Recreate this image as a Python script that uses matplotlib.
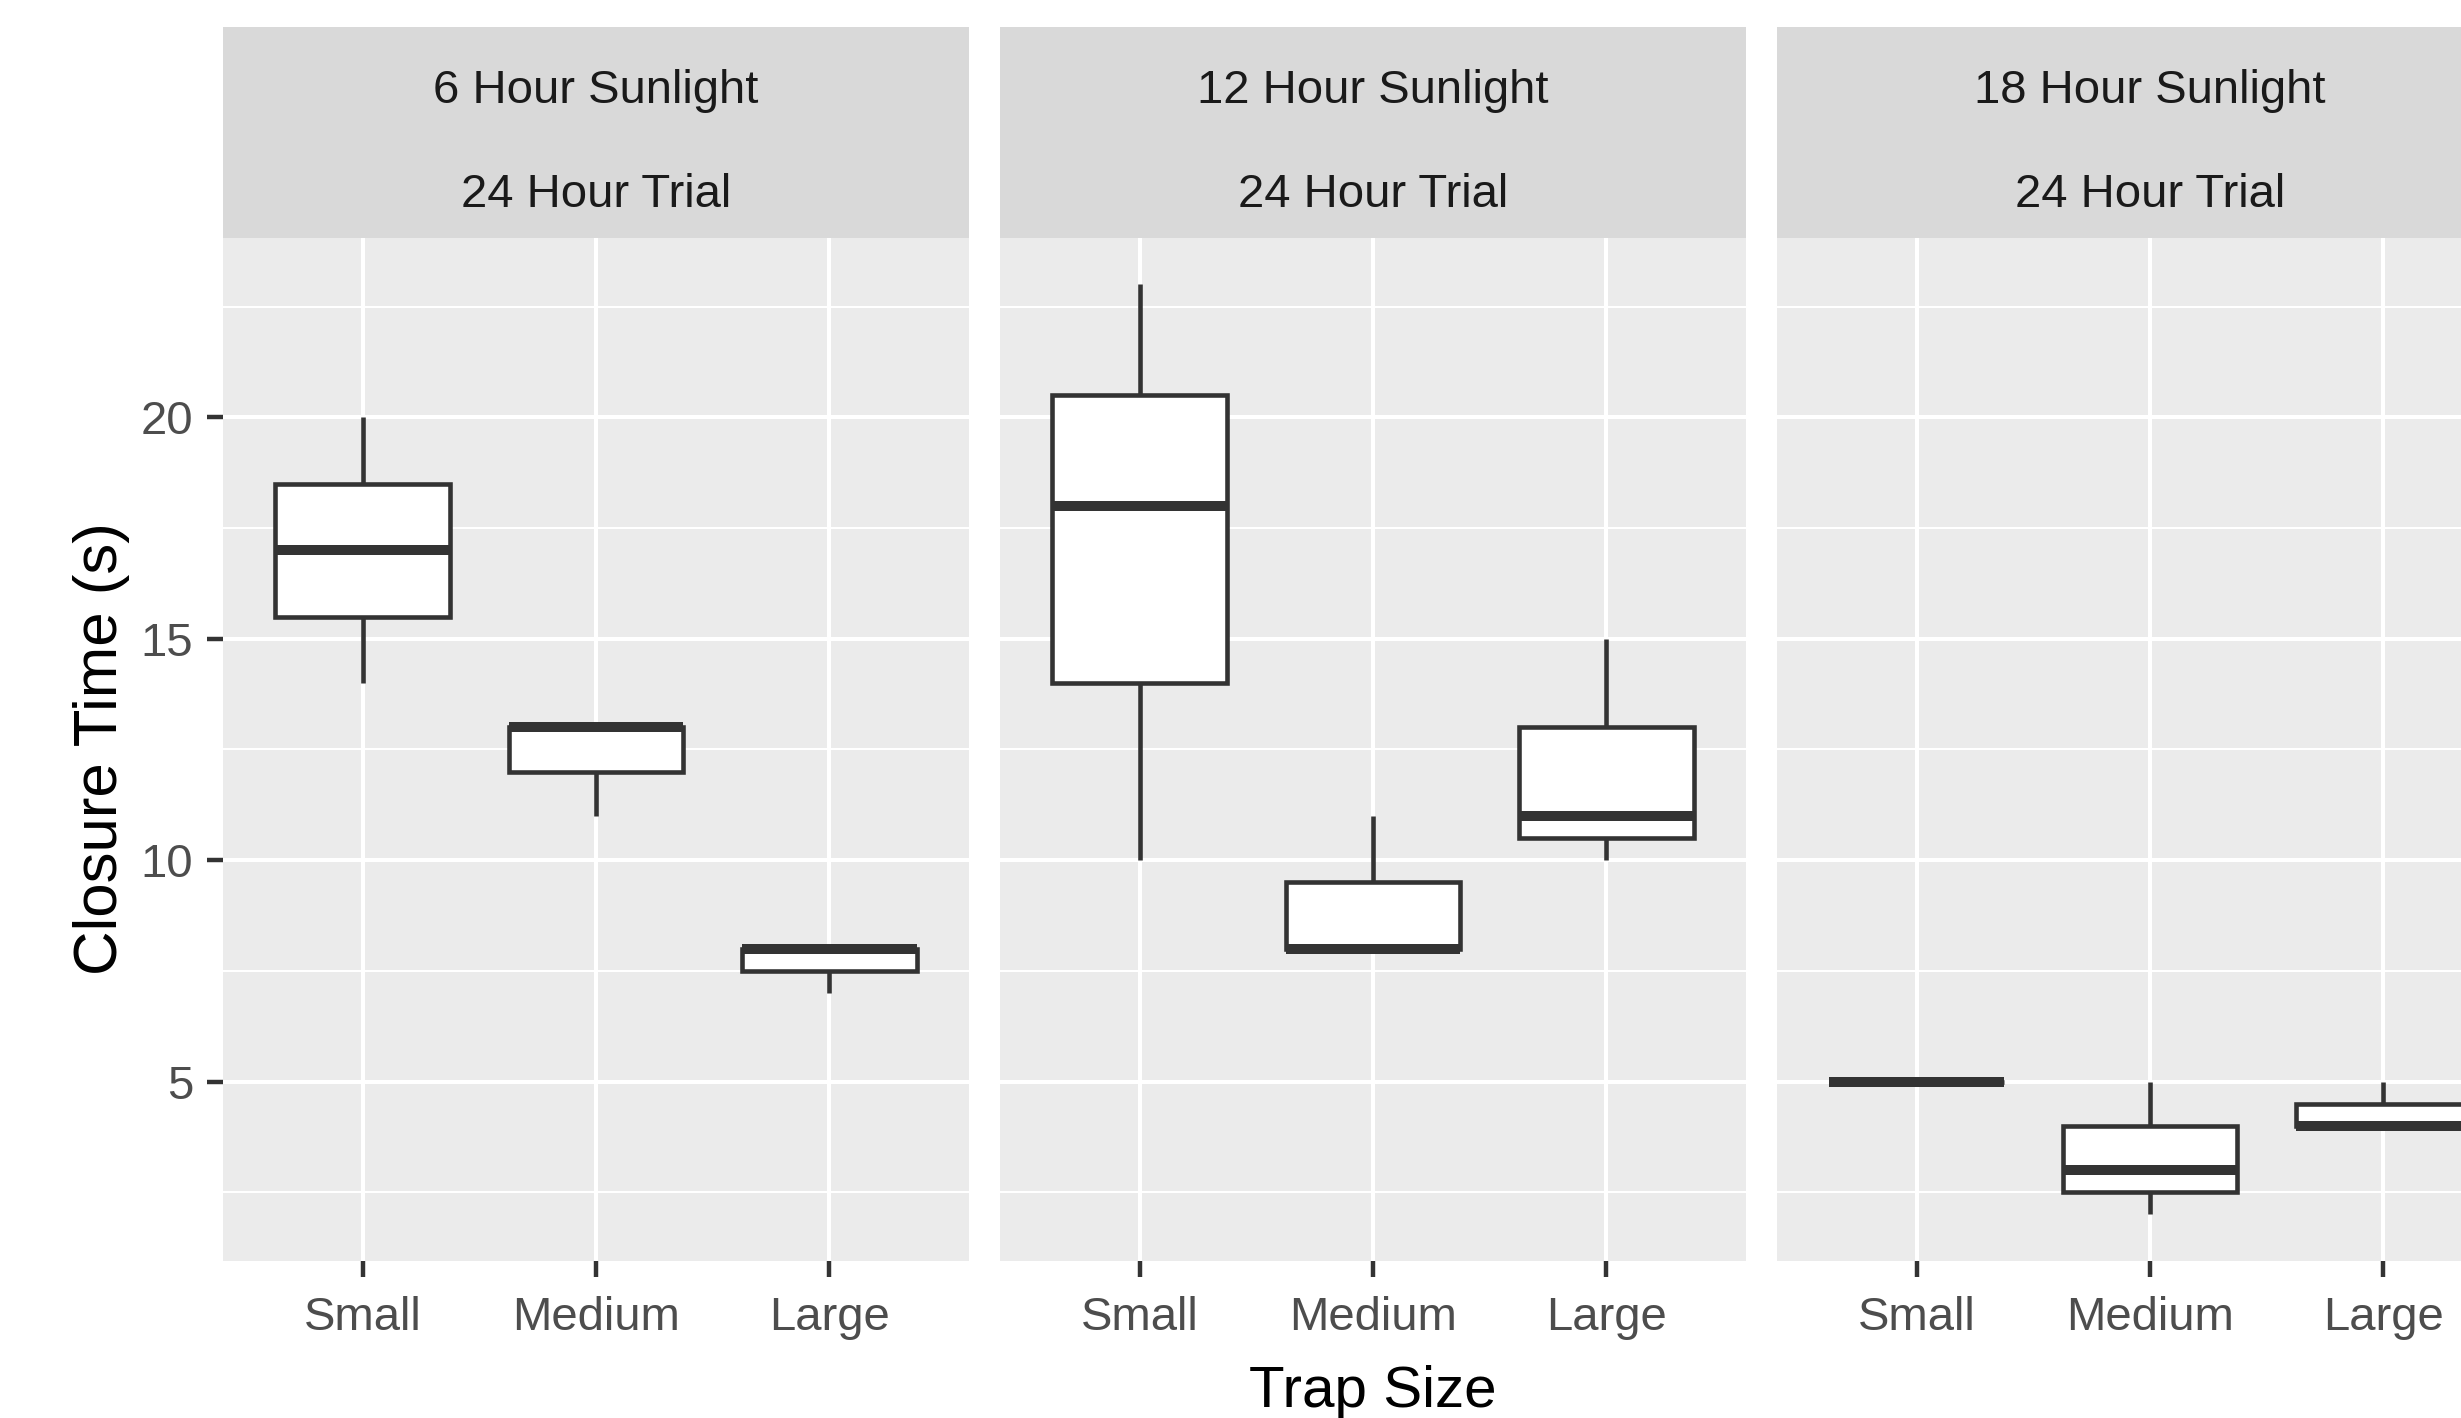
import matplotlib.pyplot as plt

plt.rcParams['font.family'] = ['Liberation Sans', 'DejaVu Sans']

# data (closure time in seconds)
sizes = ["Small", "Medium", "Large"]
sunlight = ["6 Hour Sunlight", "12 Hour Sunlight", "18 Hour Sunlight"]
trial = "24 Hour Trial"

whislo = [[14, 11, 7], [10, 8, 10], [5, 2, 4]]
q1 = [[15.5, 12, 7.5], [14, 8, 10.5], [5, 2.5, 4]]
med = [[17, 13, 8], [18, 8, 11], [5, 3, 4]]
q3 = [[18.5, 13, 8], [20.5, 9.5, 13], [5, 4, 4.5]]
whishi = [[20, 13, 8], [23, 11, 15], [5, 5, 5]]

W, H = 2461, 1418
fig = plt.figure(figsize=(W / 100, H / 100), dpi=100)


def rect(l, t, r, b):
    return [l / W, 1 - b / H, (r - l) / W, (b - t) / H]


dark = '#333333'
panel_w = 746
lefts = [223, 1000, 1777]
top, bottom, strip_top = 238, 1261, 27

for i, x0 in enumerate(lefts):
    ax = fig.add_axes(rect(x0, top, x0 + panel_w, bottom))
    ax.set_facecolor('#EBEBEB')
    stats = []
    for j in range(len(sizes)):
        stats.append(dict(whislo=whislo[i][j], q1=q1[i][j], med=med[i][j],
                          q3=q3[i][j], whishi=whishi[i][j], fliers=[]))
    ax.bxp(stats, positions=[1, 2, 3], widths=0.75, patch_artist=True,
           showcaps=False, showfliers=False,
           boxprops=dict(facecolor='white', edgecolor=dark, linewidth=3.3),
           whiskerprops=dict(color=dark, linewidth=3.3, solid_capstyle='butt'),
           medianprops=dict(color=dark, linewidth=7.2, solid_capstyle='butt'))
    ax.set_xlim(0.4, 3.6)
    ax.set_ylim(0.95, 24.05)
    ax.set_xticks([1, 2, 3])
    ax.set_xticklabels(sizes)
    ax.set_yticks([5, 10, 15, 20])
    ax.set_yticks([2.5, 7.5, 12.5, 17.5, 22.5], minor=True)
    ax.grid(which='major', color='white', linewidth=2.9)
    ax.grid(which='minor', axis='y', color='white', linewidth=1.5)
    ax.set_axisbelow(True)
    for s in ax.spines.values():
        s.set_visible(False)
    ax.tick_params(axis='both', which='major', length=11.5, width=3.2,
                   color=dark, labelcolor='#4D4D4D', labelsize=34)
    ax.tick_params(axis='x', pad=14)
    ax.tick_params(axis='y', pad=10)
    ax.tick_params(axis='y', which='minor', length=0)
    if i > 0:
        ax.tick_params(axis='y', left=False, labelleft=False)

    sax = fig.add_axes(rect(x0, strip_top, x0 + panel_w, top))
    sax.set_facecolor('#D9D9D9')
    sax.set_xticks([])
    sax.set_yticks([])
    for s in sax.spines.values():
        s.set_visible(False)
    sax.text(0.5, 0.64, sunlight[i], ha='center', va='baseline',
             fontsize=34, color='#1A1A1A', transform=sax.transAxes)
    sax.text(0.5, 0.147, trial, ha='center', va='baseline',
             fontsize=34, color='#1A1A1A', transform=sax.transAxes)

fig.text(101 / W, 1 - 749 / H, "Closure Time (s)", rotation=90,
         ha='center', va='center', fontsize=44.5, color='black')
fig.text(1373 / W, 1 - 1365 / H, "Trap Size", ha='center', va='top',
         fontsize=42, color='black')

fig.savefig('out.png', dpi=100)
